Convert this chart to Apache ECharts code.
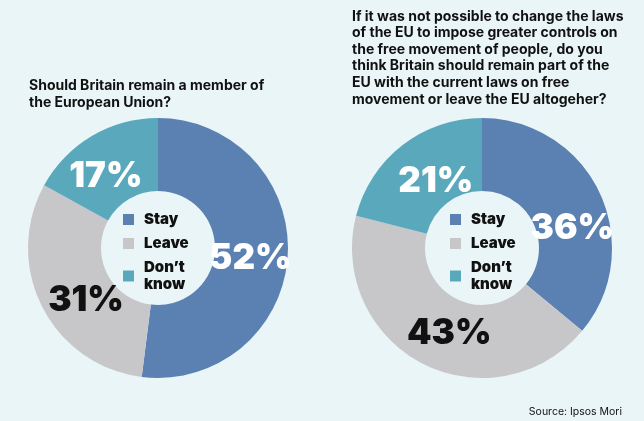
<!DOCTYPE html>
<html><head><meta charset="utf-8">
<script src="https://cdn.jsdelivr.net/npm/echarts@6/dist/echarts.min.js"></script>
<style>html,body{margin:0;padding:0;background:#EAF5F8;}#c{width:644px;height:421px;}</style>
</head><body><div id="c"></div>
<script>
const categories = ["Stay", "Leave", "Don't know"];
const remainValues = [52, 31, 17];
const freeMovementValues = [36, 43, 21];
const titleLeft = "Should Britain remain a member of\nthe European Union?";
const titleRight = "If it was not possible to change the laws\nof the EU to impose greater controls on\nthe free movement of people, do you\nthink Britain should remain part of the\nEU with the current laws on free\nmovement or leave the EU altogeher?";
const sourceText = "Source: Ipsos Mori";

const colors = ['#5B80B2', '#C7C7C9', '#5AA8BC'];
const labelColors = ['#ffffff', '#111111', '#ffffff'];
const FONT = 'Inter, Roboto, sans-serif';
const leftOffsets = [[-4, 4], [14, 9], [-3, 12]];
const rightOffsets = [[3, 22], [11, 0], [13, 10]];

function makeData(vals, offsets) {
  return categories.map((n, i) => ({
    name: n, value: vals[i],
    itemStyle: { color: colors[i] },
    label: { color: labelColors[i], offset: offsets[i] }
  }));
}
function pie(center, vals, offsets) {
  return {
    type: 'pie', center: center, radius: [57, 130], startAngle: 90, clockwise: true,
    silent: true, avoidLabelOverlap: false,
    label: { show: true, position: 'inside', formatter: '{c}%', fontFamily: FONT, fontWeight: 900, fontSize: 35 },
    labelLine: { show: false },
    itemStyle: { borderWidth: 0 },
    data: makeData(vals, offsets)
  };
}
function legend(left) {
  return {
    orient: 'vertical', left: left, top: 206, icon: 'rect', itemWidth: 11, itemHeight: 11, itemGap: 7,
    selectedMode: false,
    data: categories,
    formatter: n => n === "Don't know" ? "Don\u2019t\nknow" : n,
    textStyle: { fontFamily: FONT, fontWeight: 900, fontSize: 15, color: '#111', lineHeight: 17, padding: [0, 0, 0, 5] }
  };
}
const chart = echarts.init(document.getElementById('c'));
chart.setOption({
  backgroundColor: '#EAF5F8',
  animation: false,
  title: [
    { text: titleLeft, left: 24, top: 72, textStyle: { fontFamily: FONT, fontWeight: 700, fontSize: 14, color: '#111', lineHeight: 17 } },
    { text: titleRight, left: 347, top: 3, textStyle: { fontFamily: FONT, fontWeight: 700, fontSize: 14, color: '#111', lineHeight: 16.6 } },
    { text: sourceText, right: 17, top: 401, textStyle: { fontFamily: FONT, fontWeight: 400, fontSize: 10.5, color: '#111' } }
  ],
  legend: [legend(118), legend(445)],
  series: [pie([158, 248], remainValues, leftOffsets), pie([482, 248], freeMovementValues, rightOffsets)]
});
</script></body></html>
